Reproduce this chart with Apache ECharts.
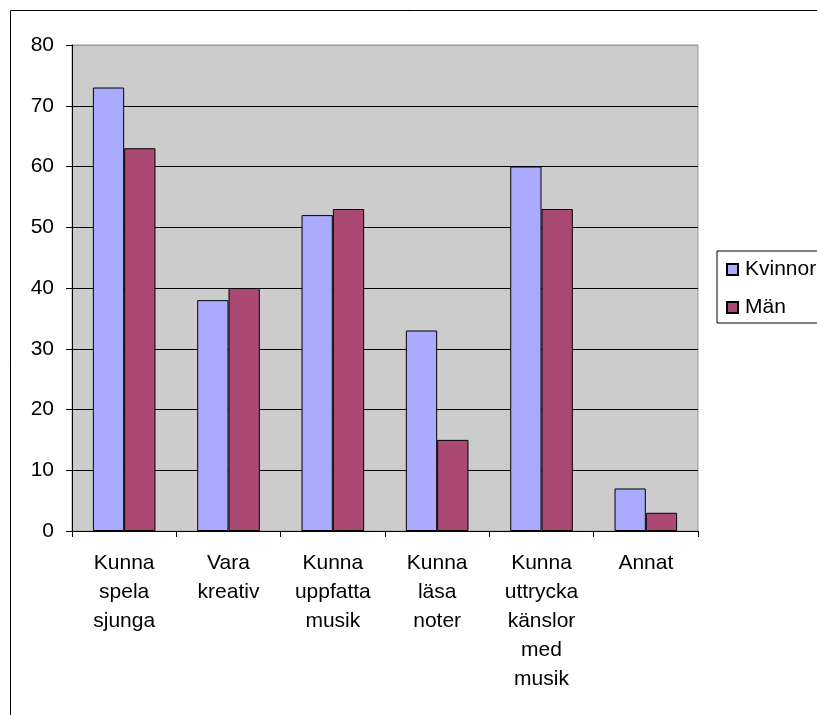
<!DOCTYPE html>
<html>
<head>
<meta charset="utf-8">
<script src="https://cdn.jsdelivr.net/npm/echarts@6/dist/echarts.min.js"></script>
<style>
html,body{margin:0;padding:0;background:#fff;}
#c{width:817px;height:715px;}
</style>
</head>
<body>
<div id="c"></div>
<script>
var categories = ['Kunna spela sjunga', 'Vara kreativ', 'Kunna uppfatta musik', 'Kunna läsa noter', 'Kunna uttrycka känslor med musik', 'Annat'];
var kvinnor = [73, 38, 52, 33, 60, 7];
var man = [63, 40, 53, 15, 53, 3];
var yTicks = { min: 0, max: 80, interval: 10 };

var chart = echarts.init(document.getElementById('c'), null, { renderer: 'canvas' });
var font = 'Liberation Sans, Arial, sans-serif';
var splitColors = [];
for (var i = 0; i <= (yTicks.max - yTicks.min) / yTicks.interval; i++) {
  splitColors.push(i === (yTicks.max - yTicks.min) / yTicks.interval ? '#999999' : '#000000');
}
chart.setOption({
  animation: false,
  backgroundColor: '#ffffff',
  graphic: [{
    type: 'rect',
    shape: { x: 10.5, y: 10.5, width: 1000, height: 1000 },
    style: { fill: 'none', stroke: '#000', lineWidth: 1 },
    z: -10
  }],
  grid: {
    left: 72, right: 119, top: 45, bottom: 184,
    show: true, backgroundColor: '#CCCCCC', borderColor: '#999999', borderWidth: 1
  },
  legend: {
    orient: 'vertical',
    left: 717, top: 251,
    padding: [8, 40, 5, 9],
    backgroundColor: '#ffffff',
    borderColor: '#000000', borderWidth: 1,
    icon: 'rect',
    itemWidth: 11, itemHeight: 11, itemGap: 17,
    textStyle: { fontFamily: font, fontSize: 21, color: '#000', padding: [0, 0, 0, 2] },
    data: ['Kvinnor', 'Män']
  },
  xAxis: {
    type: 'category',
    data: categories,
    boundaryGap: true,
    axisLine: { lineStyle: { color: '#000', width: 1 } },
    axisTick: { show: true, length: 6, lineStyle: { color: '#000' } },
    axisLabel: {
      interval: 0, margin: 18, color: '#000', fontFamily: font, fontSize: 21, lineHeight: 29,
      formatter: function (v) { return v.split(' ').join('\n'); }
    },
    splitLine: { show: false }
  },
  yAxis: {
    type: 'value',
    min: yTicks.min, max: yTicks.max, interval: yTicks.interval,
    axisLine: { show: true, lineStyle: { color: '#000', width: 1 } },
    axisTick: { show: true, length: 6, lineStyle: { color: '#000' } },
    axisLabel: { margin: 18, color: '#000', fontFamily: font, fontSize: 21 },
    splitLine: { show: true, lineStyle: { color: splitColors, width: 1 } }
  },
  series: [{
    name: 'Kvinnor', type: 'bar', data: kvinnor,
    barGap: '0%', barCategoryGap: '40%',
    itemStyle: { color: '#AAAAFF', borderColor: '#000', borderWidth: 1 }
  }, {
    name: 'Män', type: 'bar', data: man,
    barGap: '0%', barCategoryGap: '40%',
    itemStyle: { color: '#AA4A74', borderColor: '#000', borderWidth: 1 }
  }]
});
</script>
</body>
</html>
